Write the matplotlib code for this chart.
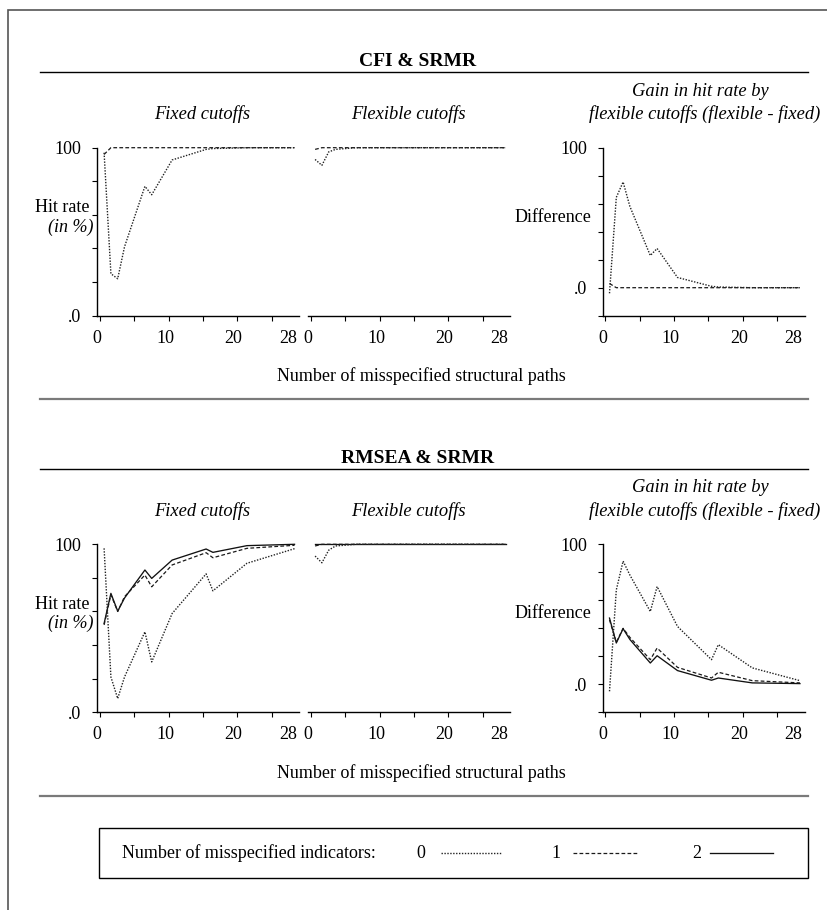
import matplotlib
matplotlib.use("Agg")
import matplotlib.pyplot as plt
from matplotlib.lines import Line2D
from matplotlib.patches import Rectangle

plt.rcParams['font.family'] = ['Liberation Serif', 'DejaVu Serif']
plt.rcParams['font.size'] = 13

W, H = 828, 910

# number of misspecified structural paths
paths = [1, 2, 3, 4, 7, 8, 11, 16, 17, 22, 29]
x_labels = [0, 10, 20, 28]

# CFI & SRMR, hit rates in %, by number of misspecified indicators
cfi_fixed_0 = [97, 25, 22, 41, 77, 72, 92.7, 99, 99.5, 100, 100]
cfi_fixed_1 = [96, 100, 100, 100, 100, 100, 100, 100, 100, 100, 100]
cfi_flex_0 = [93, 89.5, 97.5, 99, 100, 100, 100, 100, 100, 100, 100]
cfi_flex_1 = [99, 100, 100, 100, 100, 100, 100, 100, 100, 100, 100]
cfi_gain_0 = [-4, 64.5, 75.5, 58, 23, 28, 7.3, 1, 0.5, 0, 0]
cfi_gain_1 = [3, 0, 0, 0, 0, 0, 0, 0, 0, 0, 0]

# RMSEA & SRMR
rmsea_fixed_0 = [97.6, 21, 8.2, 21, 47.9, 30, 58.8, 82.4, 72.3, 88.7, 97.4]
rmsea_fixed_1 = [52, 70, 60, 68.8, 81.7, 74.7, 87.7, 95, 92, 97.6, 99.4]
rmsea_fixed_2 = [52.9, 70.8, 60.2, 68, 84.7, 79.7, 90.6, 97.2, 95.2, 99.2, 100]
rmsea_flex_0 = [93, 89, 96.5, 99, 100, 100, 100, 100, 100, 100, 100]
rmsea_flex_1 = [99, 100, 100, 100, 100, 100, 100, 100, 100, 100, 100]
rmsea_flex_2 = [100, 100, 100, 100, 100, 100, 100, 100, 100, 100, 100]
rmsea_gain_0 = [-5, 67.4, 88, 78, 52, 69.8, 41.3, 17.6, 28.3, 11.7, 2.6]
rmsea_gain_1 = [46, 30, 40, 33.5, 17.6, 25.9, 12.1, 4.5, 8.6, 2.6, 1]
rmsea_gain_2 = [47.3, 29.5, 39.7, 32, 15.2, 20.4, 9.8, 2.9, 4.5, 1, 0.5]

styles = {
    0: dict(ls=(0, (1, 1.1)), lw=1.0, color='#222222'),
    1: dict(ls=(0, (3, 1.8)), lw=0.9, color='#1a1a1a'),
    2: dict(ls='-', lw=0.95, color='#111111'),
}

fig = plt.figure(figsize=(W / 100, H / 100), dpi=100)


def fx(x):
    return x / W


def fy(y):
    return 1 - y / H


def add_px_axes(x0, y0, w, h):
    return fig.add_axes([fx(x0), fy(y0 + h), w / W, h / H])


minor_x = [0.4, 5.45, 10.5, 15.55, 20.6, 25.65]


def style_axes(ax, kind):
    ax.set_xlim(0.4, 29.7)
    for s in ['top', 'right']:
        ax.spines[s].set_visible(False)
    ax.spines['bottom'].set_linewidth(1.0)
    ax.spines['left'].set_linewidth(1.0)
    ax.set_xticks(x_labels)
    ax.set_xticklabels([str(v) for v in x_labels])
    ax.set_xticks(minor_x, minor=True)
    ax.tick_params(axis='x', which='major', length=0, pad=10)
    ax.tick_params(axis='x', which='minor', length=3.4, width=0.8, direction='out')
    if kind == 'flex':
        ax.set_ylim(0, 100)
        ax.spines['left'].set_visible(False)
        ax.set_yticks([])
    elif kind == 'fixed':
        ax.set_ylim(0, 100)
        ax.set_yticks([0, 20, 40, 60, 80, 100])
        ax.set_yticklabels(['.0', '', '', '', '', '100'])
        ax.tick_params(axis='y', length=3.4, width=0.8, pad=8)
    else:
        ax.set_ylim(-20, 100)
        ax.set_yticks([-20, 0, 20, 40, 60, 80, 100])
        ax.set_yticklabels(['', '.0', '', '', '', '', '100'])
        ax.tick_params(axis='y', length=3.4, width=0.8, pad=8)
    ax.patch.set_alpha(0)


sections = [
    ("CFI & SRMR", 0.0,
     {0: cfi_fixed_0, 1: cfi_fixed_1},
     {0: cfi_flex_0, 1: cfi_flex_1},
     {0: cfi_gain_0, 1: cfi_gain_1}),
    ("RMSEA & SRMR", 396.6,
     {0: rmsea_fixed_0, 1: rmsea_fixed_1, 2: rmsea_fixed_2},
     {0: rmsea_flex_0, 1: rmsea_flex_1, 2: rmsea_flex_2},
     {0: rmsea_gain_0, 1: rmsea_gain_1, 2: rmsea_gain_2}),
]

panel_left = {'fixed': 97.3, 'flex': 308.3, 'gain': 602.7}
panel_w, panel_h, panel_top = 202.0, 168.0, 147.7
sub_size = 13.3

for title, dy, fixed, flex, gain in sections:
    fig.text(fx(418), fy(62 + dy), title, ha='center', va='center',
             fontweight='bold', fontsize=14)
    fig.add_artist(Line2D([fx(40), fx(808)], [fy(72 + dy), fy(72 + dy)],
                          color='black', lw=1.0))
    fig.text(fx(202), fy(114 + dy), "Fixed cutoffs", ha='center', va='center',
             style='italic', fontsize=sub_size)
    fig.text(fx(408), fy(114 + dy), "Flexible cutoffs", ha='center', va='center',
             style='italic', fontsize=sub_size)
    fig.text(fx(700), fy(91 + dy), "Gain in hit rate by", ha='center',
             va='center', style='italic', fontsize=sub_size)
    fig.text(fx(705), fy(114 + dy), "flexible cutoffs (flexible - fixed)",
             ha='center', va='center', style='italic', fontsize=sub_size)

    for kind, data in [('fixed', fixed), ('flex', flex), ('gain', gain)]:
        ax = add_px_axes(panel_left[kind], panel_top + dy, panel_w, panel_h)
        style_axes(ax, kind)
        for k in sorted(data, reverse=True):
            ax.plot(paths, data[k], clip_on=False, **styles[k])

    fig.text(fx(90), fy(208 + dy), "Hit rate", ha='right', va='center')
    fig.text(fx(94), fy(227 + dy), "(in %)", ha='right', va='center',
             style='italic')
    fig.text(fx(591), fy(217 + dy), "Difference", ha='right', va='center')
    fig.text(fx(421), fy(376 + dy), "Number of misspecified structural paths",
             ha='center', va='center')
    fig.add_artist(Line2D([fx(40), fx(808)], [fy(399 + dy), fy(399 + dy)],
                          color='#7a7a7a', lw=1.6))

# legend box
fig.add_artist(Rectangle((fx(99), fy(878)), fx(808) - fx(99), fy(828) - fy(878),
                         fill=False, edgecolor='black', lw=1.0,
                         transform=fig.transFigure))
fig.text(fx(122), fy(853), "Number of misspecified indicators:", ha='left',
         va='center')
legend_items = [(0, 421, 441, 502), (1, 556, 573, 639), (2, 697, 710, 773)]
for k, tx, l0, l1 in legend_items:
    fig.text(fx(tx), fy(853), str(k), ha='center', va='center')
    fig.add_artist(Line2D([fx(l0), fx(l1)], [fy(853), fy(853)], **styles[k]))

# outer frame
fig.add_artist(Rectangle((fx(8), fy(960)), fx(900), fy(10) - fy(960),
                         fill=False, edgecolor='#555555', lw=1.2,
                         transform=fig.transFigure))

fig.savefig("out.png", dpi=100)
